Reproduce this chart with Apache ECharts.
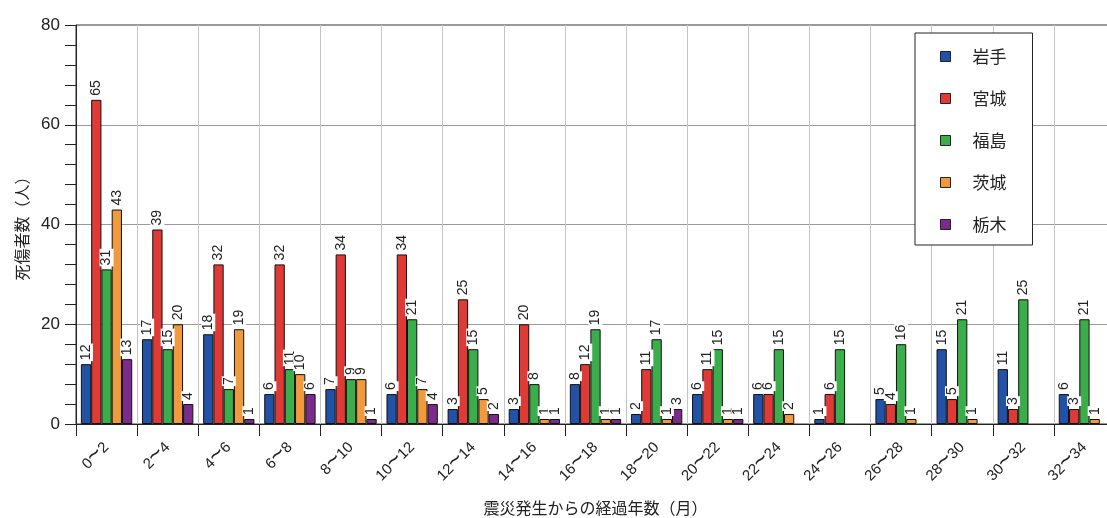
<!DOCTYPE html>
<html>
<head>
<meta charset="utf-8">
<script src="https://cdn.jsdelivr.net/npm/echarts@6/dist/echarts.min.js"></script>
<style>
  html, body { margin: 0; padding: 0; background: #fff; }
  #chart { width: 1107px; height: 518px; }
</style>
</head>
<body>
<div id="chart"></div>
<script>
// Months elapsed since the earthquake, in two-month bins
const categories = ['0~2', '2~4', '4~6', '6~8', '8~10', '10~12', '12~14', '14~16',
  '16~18', '18~20', '20~22', '22~24', '24~26', '26~28', '28~30', '30~32', '32~34'];

// Casualties per prefecture (null = no casualties in that bin)
const iwate    = [12, 17, 18, 6, 7, 6, 3, 3, 8, 2, 6, 6, 1, 5, 15, 11, 6];
const miyagi   = [65, 39, 32, 32, 34, 34, 25, 20, 12, 11, 11, 6, 6, 4, 5, 3, 3];
const fukushima = [31, 15, 7, 11, 9, 21, 15, 8, 19, 17, 15, 15, 15, 16, 21, 25, 21];
const ibaraki  = [43, 20, 19, 10, 9, 7, 5, 1, 1, 1, 1, 2, null, 1, 1, null, 1];
const tochigi  = [13, 4, 1, 6, 1, 4, 2, 1, 1, 3, 1, null, null, null, null, null, null];

const yTicks = { min: 0, max: 80, interval: 20 };

const seriesDefs = [
  { name: '岩手', data: iwate, color: '#2152a6' },
  { name: '宮城', data: miyagi, color: '#e03a37' },
  { name: '福島', data: fukushima, color: '#3bad4b' },
  { name: '茨城', data: ibaraki, color: '#f19a3d' },
  { name: '栃木', data: tochigi, color: '#7a2b8c' }
];

const chart = echarts.init(document.getElementById('chart'), null, { renderer: 'canvas' });

const latinFont = '"Liberation Sans", Arial, sans-serif';
const cjkFont = '"Noto Sans CJK JP", "Noto Sans", sans-serif';

chart.setOption({
  animation: false,
  backgroundColor: '#fff',
  grid: {
    left: 76, right: -8, top: 25, bottom: 94,
    outerBoundsMode: 'none',
    containLabel: false,
    show: true, borderColor: '#333', borderWidth: 1, backgroundColor: 'transparent'
  },
  legend: {
    orient: 'vertical',
    left: 915, top: 33,
    width: 120,
    padding: [15, 26, 12, 25],
    itemGap: 25,
    itemWidth: 10, itemHeight: 10,
    icon: 'rect',
    backgroundColor: '#fff',
    borderColor: '#222',
    borderWidth: 1,
    itemStyle: { borderColor: '#222', borderWidth: 1 },
    textStyle: { fontFamily: cjkFont, fontSize: 17, color: '#222', padding: [0, 0, 0, 17] },
    data: seriesDefs.map(s => s.name)
  },
  xAxis: {
    type: 'category',
    data: categories,
    name: '震災発生からの経過年数（月）',
    nameLocation: 'middle',
    nameGap: 76,
    nameTextStyle: { fontFamily: cjkFont, fontSize: 16, color: '#222' },
    axisLine: { lineStyle: { color: '#222', width: 1 } },
    axisTick: { show: true, length: 12, lineStyle: { color: '#222' } },
    axisLabel: {
      rotate: 45, margin: 21, fontSize: 15, color: '#222',
      fontFamily: latinFont,
      // enlarge the range tilde so it reads as a bold wave
      formatter: v => v.split('~').join('{t|~}'),
      rich: {
        t: { fontSize: 24, fontFamily: latinFont, color: '#222', padding: [0, 0, 3, 0] }
      }
    },
    splitLine: { show: true, lineStyle: { color: '#c4c4c4', width: 1 } }
  },
  yAxis: {
    type: 'value',
    min: yTicks.min, max: yTicks.max, interval: yTicks.interval,
    name: '死傷者数（人）',
    nameLocation: 'middle',
    nameGap: 40,
    nameTextStyle: { fontFamily: cjkFont, fontSize: 16, color: '#222' },
    axisLine: { show: true, lineStyle: { color: '#222', width: 1 } },
    axisTick: { show: true, length: 11, lineStyle: { color: '#222' } },
    minorTick: { show: true, splitNumber: 5, length: 11, lineStyle: { color: '#222' } },
    axisLabel: {
      margin: 16, fontSize: 17, color: '#222',
      fontFamily: latinFont
    },
    splitLine: { show: true, lineStyle: { color: '#9a9a9a', width: 1 } }
  },
  series: seriesDefs.map(s => ({
    name: s.name,
    type: 'bar',
    data: s.data,
    barGap: '0%',
    barCategoryGap: '16%',
    itemStyle: { color: s.color, borderColor: '#111', borderWidth: 1 },
    label: {
      show: true,
      position: 'top',
      rotate: 90,
      align: 'left',
      verticalAlign: 'middle',
      distance: 3,
      fontSize: 14,
      color: '#222',
      fontFamily: latinFont,
      backgroundColor: '#fff',
      padding: [0, 1, 0, 1]
    }
  }))
});
</script>
</body>
</html>
